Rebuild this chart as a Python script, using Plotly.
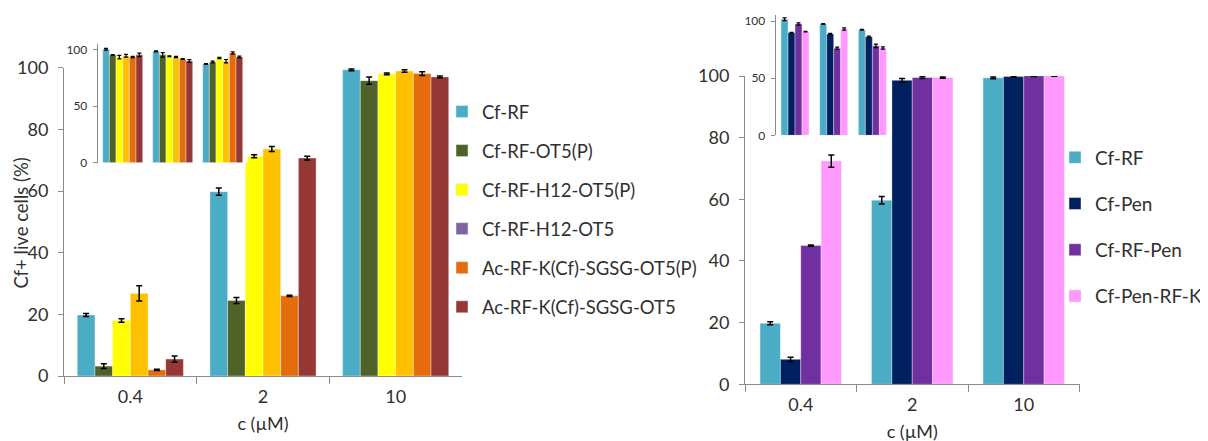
import plotly.graph_objects as go

W, H = 1208, 441
OFF = 8  # page body margin offset of the rendered figure

# ---------------- data ----------------
concs = ["0.4", "2", "10"]

left_names = ["Cf-RF", "Cf-RF-OT5(P)", "Cf-RF-H12-OT5(P)", "Cf-RF-H12-OT5",
              "Ac-RF-K(Cf)-SGSG-OT5(P)", "Ac-RF-K(Cf)-SGSG-OT5"]
left_colors = ["#4BACC6", "#4F6228", "#FFFF00", "#FFC000", "#E46C0A", "#953735"]
left_legend_colors = ["#4BACC6", "#4F6228", "#FFFF00", "#8064A2", "#E46C0A", "#953735"]

left_main = [
    [19.8, 59.8, 99.3],
    [3.2, 24.5, 95.8],
    [18.0, 71.3, 98.0],
    [26.8, 73.6, 98.9],
    [2.0, 26.0, 98.1],
    [5.5, 70.7, 97.0],
]
left_main_err = [
    [0.5, 1.2, 0.3],
    [0.8, 1.0, 1.2],
    [0.6, 0.5, 0.3],
    [2.5, 0.8, 0.4],
    [0.2, 0.2, 0.6],
    [1.0, 0.6, 0.3],
]
left_inset = [
    [100.3, 98.5, 87.3],
    [95.3, 95.4, 89.0],
    [93.4, 94.1, 92.6],
    [94.6, 93.5, 89.8],
    [93.5, 91.7, 97.0],
    [95.4, 89.9, 93.5],
]
left_inset_err = [
    [0.8, 0.4, 0.3],
    [0.4, 2.0, 0.8],
    [1.5, 0.4, 0.5],
    [1.2, 0.5, 1.5],
    [0.5, 0.4, 1.0],
    [1.5, 1.2, 0.8],
]

right_names = ["Cf-RF", "Cf-Pen", "Cf-RF-Pen", "Cf-Pen-RF-K"]
right_colors = ["#4BACC6", "#002060", "#7030A0", "#FF99FF"]
right_main = [
    [19.8, 59.7, 99.4],
    [8.1, 98.6, 99.8],
    [45.0, 99.5, 100.1],
    [72.4, 99.5, 100.1],
]
right_main_err = [
    [0.5, 1.2, 0.3],
    [0.7, 0.6, 0.1],
    [0.2, 0.3, 0.3],
    [2.0, 0.2, 0.2],
]
right_inset = [
    [101.6, 97.4, 92.4],
    [89.8, 88.6, 86.3],
    [97.4, 76.2, 78.3],
    [90.7, 93.0, 76.4],
]
right_inset_err = [
    [1.2, 0.3, 0.3],
    [0.3, 0.6, 0.6],
    [1.0, 1.0, 1.5],
    [0.3, 1.0, 1.0],
]

y_title = "Cf+ live cells (%)"
x_title = "c (µM)"

# ---------------- helpers ----------------
def px(a):
    return (a - OFF) / W

def py(a):
    return 1 - (a - OFF) / H

def xd(a, b):
    return [px(a), px(b)]

def yd(top, bottom):
    return [py(bottom), py(top)]

FONT = "Lato"
TXT = "#303030"
AX = "#8c8c8c"

fig = go.Figure()

def add_group(values, errs, colors, xa, ya, total, names, thick=1.5, cap=3):
    n = len(values)
    w = total / n
    for i in range(n):
        fig.add_trace(go.Bar(
            x=concs, y=values[i], width=w, offset=-total / 2 + i * w,
            marker=dict(color=colors[i], line=dict(color="rgba(255,255,255,0.45)", width=0.8)),
            error_y=dict(type="data", array=errs[i], color="black", thickness=thick, width=cap),
            xaxis=xa, yaxis=ya, name=names[i], showlegend=False,
        ))

add_group(left_main, left_main_err, left_colors, "x", "y", 0.8, left_names)
add_group(right_main, right_main_err, right_colors, "x2", "y2", 0.73, right_names)
add_group(left_inset, left_inset_err, left_colors, "x3", "y3", 0.8, left_names, thick=1.2, cap=2)
add_group(right_inset, right_inset_err, right_colors, "x4", "y4", 0.724, right_names, thick=1.2, cap=2)

# legend entries
for i, nm in enumerate(left_names):
    fig.add_trace(go.Bar(x=[None], y=[None], name=nm, marker_color=left_legend_colors[i],
                         legend="legend", legendgroup="L%d" % i, showlegend=True,
                         xaxis="x", yaxis="y"))
for i, nm in enumerate(right_names):
    fig.add_trace(go.Bar(x=[None], y=[None], name=nm, marker_color=right_colors[i],
                         legend="legend2", legendgroup="R%d" % i, showlegend=True,
                         xaxis="x2", yaxis="y2"))

main_x = dict(type="category", categoryorder="array", categoryarray=concs,
              showline=True, linecolor=AX, linewidth=1, ticks="outside", tickson="boundaries",
              ticklen=7, tickcolor=AX, tickfont=dict(family=FONT, size=18, color=TXT),
              ticklabelstandoff=4, showgrid=False, zeroline=False, automargin=False)
main_y = dict(range=[0, 100], tickvals=[0, 20, 40, 60, 80, 100], showline=True, linecolor=AX,
              linewidth=1, ticks="outside", ticklen=5, tickcolor=AX,
              tickfont=dict(family=FONT, size=18, color=TXT), ticklabelstandoff=6,
              showgrid=False, zeroline=False, automargin=False)
inset_x = dict(type="category", categoryorder="array", categoryarray=concs, visible=False,
               automargin=False)
inset_y = dict(range=[0, 105], tickvals=[0, 50, 100], showline=True, linecolor=AX, linewidth=1,
               ticks="outside", ticklen=4, tickcolor=AX,
               tickfont=dict(family=FONT, size=12, color=TXT), ticklabelstandoff=3,
               showgrid=False, zeroline=False, automargin=False)

fig.update_layout(
    width=W, height=H, margin=dict(l=0, r=0, t=0, b=0, autoexpand=False),
    paper_bgcolor="white", plot_bgcolor="white",
    barmode="overlay", showlegend=True,
    font=dict(family=FONT, color=TXT),
    xaxis=dict(main_x, domain=xd(64, 462),
               title=dict(text=x_title, font=dict(family=FONT, size=18, color=TXT), standoff=11)),
    yaxis=dict(main_y, domain=yd(67.7, 376)),
    xaxis2=dict(main_x, domain=xd(745, 1079.5), anchor="y2",
                title=dict(text=x_title, font=dict(family=FONT, size=18, color=TXT), standoff=11)),
    yaxis2=dict(main_y, domain=yd(76, 384.3), anchor="x2"),
    xaxis3=dict(inset_x, domain=xd(97.7, 247.7), anchor="y3"),
    yaxis3=dict(inset_y, domain=yd(44, 162.7), anchor="x3"),
    xaxis4=dict(inset_x, domain=xd(775.7, 891.7), anchor="y4"),
    yaxis4=dict(inset_y, domain=yd(15.3, 135.3), anchor="x4"),
    legend=dict(x=434 / W, y=py(93), xanchor="left", yanchor="top",
                font=dict(family=FONT, size=18.5, color=TXT), tracegroupgap=12,
                bgcolor="rgba(0,0,0,0)", itemclick=False),
    legend2=dict(x=1047 / W, y=py(138.5), xanchor="left", yanchor="top",
                 font=dict(family=FONT, size=19, color=TXT), tracegroupgap=18.5,
                 bgcolor="rgba(0,0,0,0)", itemclick=False),
    annotations=[dict(text=y_title, textangle=-90, xref="paper", yref="paper",
                      x=px(20.5), y=py(223), xanchor="center", yanchor="middle",
                      showarrow=False, font=dict(family=FONT, size=18.5, color=TXT))],
)

fig.write_html("out.html")
